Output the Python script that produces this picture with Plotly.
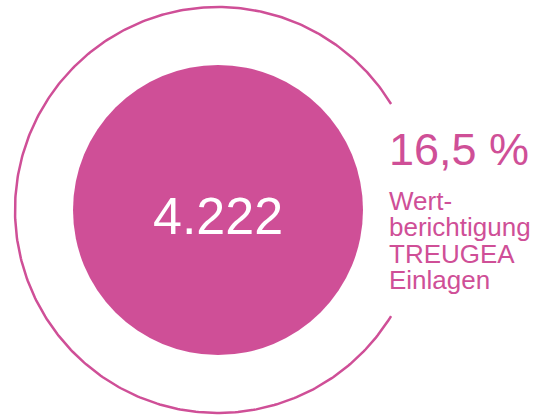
import numpy as np
import plotly.graph_objects as go

# ---- data ----
center_value = "4.222"
share_label = "16,5 %"
label_lines = ["Wert-", "berichtigung", "TREUGEA", "Einlagen"]

# ---- style ----
PINK = "#CF4F97"
W, H = 543, 416
cx, cy = 218, 210
r_outer, r_inner = 203, 145
gap_half_deg = 31.5

fig = go.Figure()

# outer arc (open on the right)
theta = np.radians(np.linspace(gap_half_deg, 360 - gap_half_deg, 400))
fig.add_trace(go.Scatter(
    x=cx + r_outer * np.cos(theta),
    y=cy - r_outer * np.sin(theta),
    mode="lines", line=dict(color=PINK, width=2.5),
    hoverinfo="skip", showlegend=False))

# inner filled circle
fig.add_shape(type="circle", xref="x", yref="y",
              x0=cx - r_inner, x1=cx + r_inner,
              y0=cy - r_inner, y1=cy + r_inner,
              fillcolor=PINK, line=dict(width=0), layer="below")

FONT = "Liberation Sans, Arial, sans-serif"

fig.add_annotation(x=cx, y=216, text=center_value, showarrow=False,
                   xanchor="center", yanchor="middle",
                   font=dict(family=FONT, size=52, color="white"))

fig.add_annotation(x=387, y=149, text=share_label, showarrow=False,
                   xanchor="left", yanchor="middle",
                   font=dict(family=FONT, size=45, color=PINK))

line_y = [201, 227, 254, 280]
for txt, yy in zip(label_lines, line_y):
    fig.add_annotation(x=387, y=yy, text=txt, showarrow=False,
                       xanchor="left", yanchor="middle",
                       font=dict(family=FONT, size=26, color=PINK))

fig.update_xaxes(range=[0, W], visible=False, fixedrange=True)
fig.update_yaxes(range=[H, 0], visible=False, fixedrange=True)
fig.update_layout(width=W, height=H, margin=dict(l=0, r=0, t=0, b=0),
                  paper_bgcolor="white", plot_bgcolor="white",
                  showlegend=False)

fig.write_html("out.html", config={"displayModeBar": False},
               post_script="document.body.style.margin='0';document.body.style.overflow='hidden';")
